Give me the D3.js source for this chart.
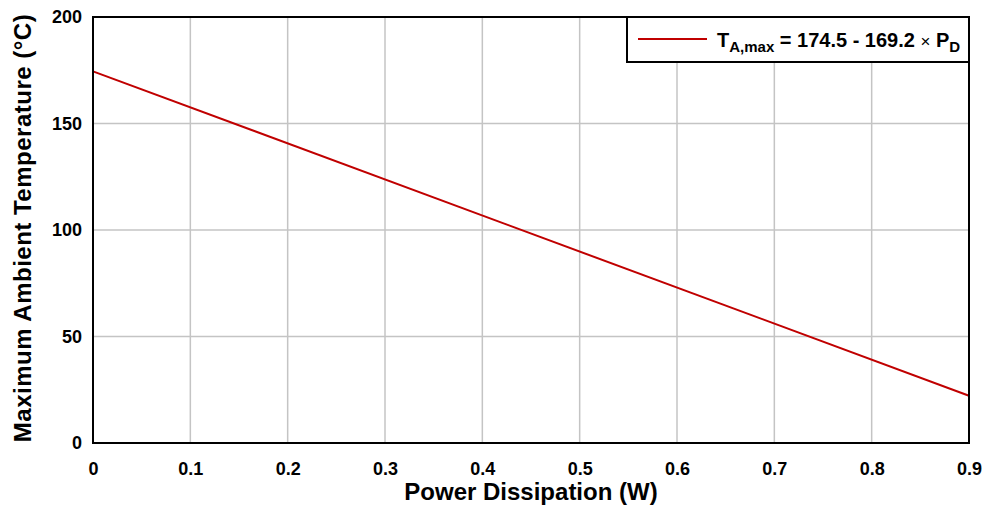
<!DOCTYPE html>
<html>
<head>
<meta charset="utf-8">
<script src="https://cdn.jsdelivr.net/npm/d3@7"></script>
<style>
  body { margin: 0; background: #fff; }
  text { font-family: "Liberation Sans", Arial, sans-serif; font-weight: bold; fill: #000; }
</style>
</head>
<body>
<div id="chart"></div>
<script>
// data
var powerW = [0, 0.9];
var tempC = [174.5, 22.2];
var xTicks = [0, 0.1, 0.2, 0.3, 0.4, 0.5, 0.6, 0.7, 0.8, 0.9];
var yTicks = [0, 50, 100, 150, 200];

var svgWidth = 983;
var svgHeight = 508;
var margin = { top: 17, right: 14, bottom: 65, left: 93 };
var width = svgWidth - margin.left - margin.right;
var height = svgHeight - margin.top - margin.bottom;

var svg = d3.select("#chart")
  .append("svg")
  .attr("width", svgWidth)
  .attr("height", svgHeight);

var chartGroup = svg.append("g")
  .attr("transform", `translate(${margin.left}, ${margin.top})`);

var x = d3.scaleLinear().domain([0, 0.9]).range([0, width]);
var y = d3.scaleLinear().domain([0, 200]).range([height, 0]);

// grid
chartGroup.append("g")
  .selectAll("line.vgrid")
  .data(xTicks)
  .enter()
  .append("line")
  .attr("x1", d => x(d)).attr("x2", d => x(d))
  .attr("y1", 0).attr("y2", height)
  .attr("stroke", "#c4c4c4")
  .attr("stroke-width", 1.5);

chartGroup.append("g")
  .selectAll("line.hgrid")
  .data(yTicks)
  .enter()
  .append("line")
  .attr("x1", 0).attr("x2", width)
  .attr("y1", d => y(d)).attr("y2", d => y(d))
  .attr("stroke", "#c4c4c4")
  .attr("stroke-width", 1.5);

// axes (labels only, frame drawn separately)
var bottomAxis = d3.axisBottom(x).tickValues(xTicks).tickSize(0).tickPadding(19)
  .tickFormat(d => d === 0 ? "0" : d3.format(".1f")(d));
var leftAxis = d3.axisLeft(y).tickValues(yTicks).tickSize(0).tickPadding(11);

var gx = chartGroup.append("g")
  .attr("transform", `translate(0, ${height})`)
  .call(bottomAxis);
gx.select(".domain").remove();
gx.selectAll("text").attr("font-size", 18).attr("font-family", null);

var gy = chartGroup.append("g").call(leftAxis);
gy.select(".domain").remove();
gy.selectAll("text").attr("font-size", 18).attr("font-family", null);

// data line
var pts = powerW.map((p, i) => [p, tempC[i]]);
chartGroup.append("path")
  .datum(pts)
  .attr("fill", "none")
  .attr("stroke", "#c00000")
  .attr("stroke-width", 2)
  .attr("d", d3.line().x(d => x(d[0])).y(d => y(d[1])));

// frame
chartGroup.append("rect")
  .attr("width", width).attr("height", height)
  .attr("fill", "none")
  .attr("stroke", "#000")
  .attr("stroke-width", 2);

// legend
var lg = chartGroup.append("g")
  .attr("transform", `translate(${width - 342}, 0)`);
lg.append("rect")
  .attr("width", 342).attr("height", 45)
  .attr("fill", "#fff")
  .attr("stroke", "#000")
  .attr("stroke-width", 2);
lg.append("line")
  .attr("x1", 11).attr("x2", 80)
  .attr("y1", 22).attr("y2", 22)
  .attr("stroke", "#c00000")
  .attr("stroke-width", 2);
var lt = lg.append("text")
  .attr("x", 90).attr("y", 30)
  .attr("font-size", 20);
lt.append("tspan").text("T");
lt.append("tspan").attr("dy", 5).attr("font-size", 15).text("A,max");
lt.append("tspan").attr("dy", -5).text(" = 174.5 - 169.2 ");
lt.append("tspan").attr("font-weight", "normal").attr("font-size", 17).text("\u00d7");
lt.append("tspan").text(" P");
lt.append("tspan").attr("dy", 5).attr("font-size", 15).text("D");

// axis titles
chartGroup.append("text")
  .attr("x", width / 2)
  .attr("y", height + 57)
  .attr("text-anchor", "middle")
  .attr("font-size", 24)
  .text("Power Dissipation (W)");

chartGroup.append("text")
  .attr("transform", "rotate(-90)")
  .attr("x", -height / 2 + 2)
  .attr("y", -margin.left + 31)
  .attr("text-anchor", "middle")
  .attr("font-size", 24)
  .attr("letter-spacing", 0.5)
  .text("Maximum Ambient Temperature (\u00b0C)");
</script>
</body>
</html>
